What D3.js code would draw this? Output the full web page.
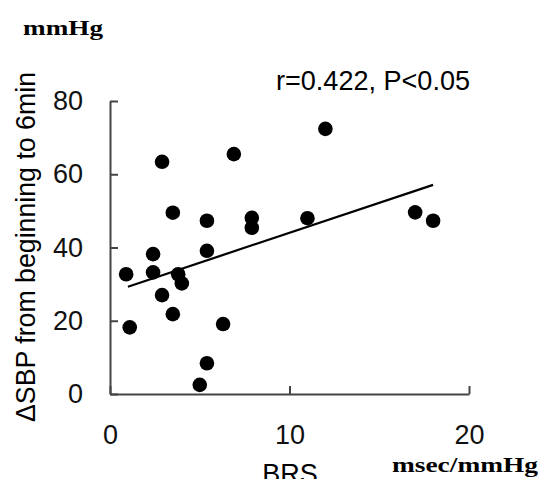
<!DOCTYPE html>
<html>
<head>
<meta charset="utf-8">
<script src="https://cdn.jsdelivr.net/npm/d3@7"></script>
<style>
  body { margin: 0; background: #fff; }
</style>
</head>
<body>
<div id="chart"></div>
<script>
// data
var brs = [0.9, 1.1, 2.4, 2.4, 2.9, 2.9, 3.5, 3.5, 3.8, 4.0, 5.4, 5.4, 5.4, 5.0, 6.3, 6.9, 7.9, 7.9, 11.0, 12.0, 17.0, 18.0];
var dsbp = [32.7, 18.2, 38.2, 33.2, 63.4, 27.0, 49.5, 21.8, 32.7, 30.2, 47.3, 39.1, 8.4, 2.5, 19.1, 65.5, 48.1, 45.4, 48.0, 72.4, 49.6, 47.3];

// regression line end points
var fitX = [1.0, 18.0];
var fitY = [29.3, 57.1];

var xTicks = [0, 10, 20];
var yTicks = [0, 20, 40, 60, 80];

var width = 544, height = 479;

var svg = d3.select("#chart")
  .append("svg")
    .attr("width", width)
    .attr("height", height);

var x = d3.scaleLinear().domain([0, 20]).range([110, 469]);
var y = d3.scaleLinear().domain([0, 80]).range([394, 101]);

// axes, ticks pointing inward
var xAxis = svg.append("g")
  .attr("transform", "translate(0,394)")
  .call(d3.axisBottom(x).tickValues(xTicks).tickSizeInner(-8).tickSizeOuter(0).tickPadding(31));

var yAxis = svg.append("g")
  .attr("transform", "translate(110,0)")
  .call(d3.axisLeft(y).tickValues(yTicks).tickSizeInner(-8).tickSizeOuter(0).tickPadding(27));

svg.selectAll(".domain, .tick line")
  .attr("stroke", "#444")
  .attr("stroke-width", 2);

svg.selectAll(".tick text")
  .attr("font-family", "Liberation Sans, Arial, sans-serif")
  .attr("font-size", 27)
  .attr("fill", "#111");

// fit line
svg.append("path")
  .datum(d3.zip(fitX, fitY))
  .attr("fill", "none")
  .attr("stroke", "#000")
  .attr("stroke-width", 2.2)
  .attr("d", d3.line()
    .x(function(d) { return x(d[0]); })
    .y(function(d) { return y(d[1]); }));

// points
svg.selectAll("circle.pt")
  .data(d3.zip(brs, dsbp))
  .enter()
  .append("circle")
    .attr("class", "pt")
    .attr("cx", function(d) { return x(d[0]); })
    .attr("cy", function(d) { return y(d[1]); })
    .attr("r", 7.3)
    .attr("fill", "#000");

// labels
svg.append("text")
  .attr("x", 23).attr("y", 35)
  .attr("font-family", "Liberation Serif, serif")
  .attr("font-weight", "bold")
  .attr("font-size", 22)
  .attr("textLength", 80)
  .attr("lengthAdjust", "spacingAndGlyphs")
  .text("mmHg");

svg.append("text")
  .attr("x", 276).attr("y", 90)
  .attr("font-family", "Liberation Sans, Arial, sans-serif")
  .attr("font-size", 27)
  .attr("textLength", 194)
  .attr("lengthAdjust", "spacingAndGlyphs")
  .text("r=0.422, P<0.05");

svg.append("text")
  .attr("transform", "translate(35,247) rotate(-90)")
  .attr("text-anchor", "middle")
  .attr("font-family", "Liberation Sans, Arial, sans-serif")
  .attr("font-size", 27)
  .attr("textLength", 350)
  .attr("lengthAdjust", "spacingAndGlyphs")
  .text("\u0394SBP from beginning to 6min");

svg.append("text")
  .attr("x", 290).attr("y", 483)
  .attr("text-anchor", "middle")
  .attr("font-family", "Liberation Sans, Arial, sans-serif")
  .attr("font-size", 27)
  .text("BRS");

svg.append("text")
  .attr("x", 392).attr("y", 472)
  .attr("font-family", "Liberation Serif, serif")
  .attr("font-weight", "bold")
  .attr("font-size", 22)
  .attr("textLength", 146)
  .attr("lengthAdjust", "spacingAndGlyphs")
  .text("msec/mmHg");
</script>
</body>
</html>
